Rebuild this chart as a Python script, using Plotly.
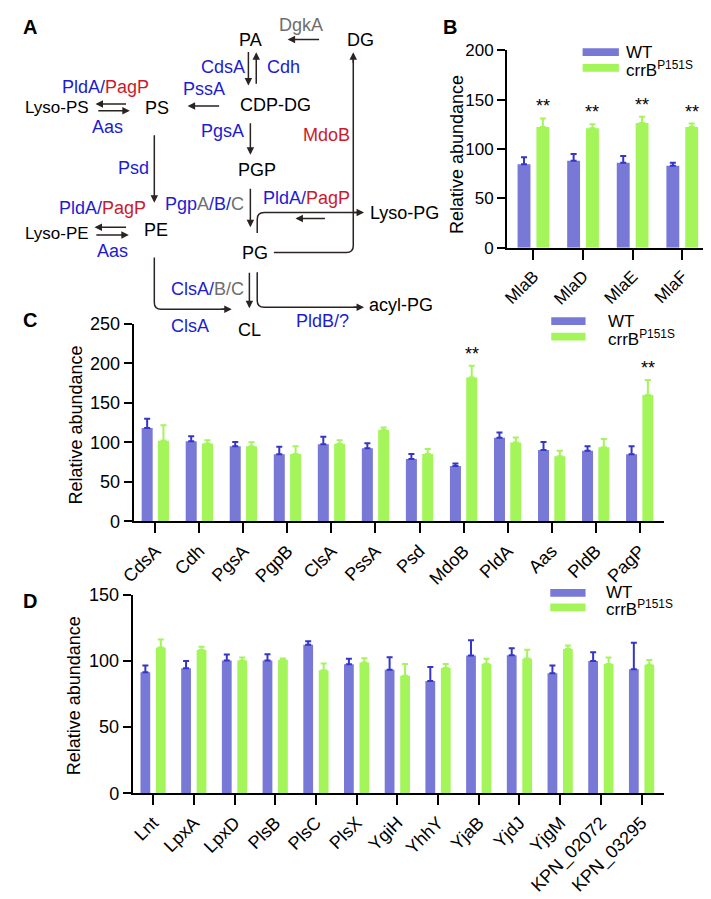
import plotly.graph_objects as go

# ---------------- data ----------------
groups = ["WT", "crrB<sup>P151S</sup>"]

b_categories = ["MlaB", "MlaD", "MlaE", "MlaF"]
b_wt = [84.5, 88.0, 86.0, 83.0]
b_wt_err = [7.2, 7.0, 7.0, 3.0]
b_mut = [122.4, 121.0, 126.4, 122.4]
b_mut_err = [8.6, 4.0, 6.3, 3.3]
b_sig = ["**", "**", "**", "**"]

c_categories = ["CdsA", "Cdh", "PgsA", "PgpB", "ClsA", "PssA", "Psd", "MdoB",
                "PldA", "Aas", "PldB", "PagP"]
c_wt = [118.4, 101.5, 95.3, 85.0, 97.8, 92.8, 79.2, 70.1, 106.0, 90.3, 89.5, 85.0]
c_wt_err = [11.6, 6.2, 5.4, 9.5, 9.5, 6.2, 6.2, 3.3, 6.6, 10.4, 5.8, 10.3]
c_mut = [102.3, 98.6, 95.3, 85.4, 98.2, 115.9, 85.4, 182.3, 99.8, 82.5, 94.0, 160.0]
c_mut_err = [19.4, 4.1, 4.9, 9.9, 4.5, 2.9, 6.2, 14.9, 6.6, 7.0, 10.4, 19.0]
c_sig = ["", "", "", "", "", "", "", "**", "", "", "", "**"]

d_categories = ["Lnt", "LpxA", "LpxD", "PlsB", "PlsC", "PlsX", "YgiH", "YhhY",
                "YjaB", "YjdJ", "YjgM", "KPN_02072", "KPN_03295"]
d_wt = [91.4, 94.4, 100.3, 100.3, 112.2, 97.4, 93.4, 84.8, 104.0, 104.3, 90.7, 100.0, 93.6]
d_wt_err = [5.2, 5.6, 4.5, 4.7, 2.7, 4.2, 9.4, 10.6, 11.6, 5.2, 5.9, 6.5, 20.1]
d_mut = [110.2, 108.2, 100.3, 100.8, 92.9, 98.8, 88.7, 94.6, 97.9, 101.8, 109.0, 97.6, 97.1]
d_mut_err = [5.9, 2.5, 2.2, 1.0, 5.1, 3.2, 8.9, 3.0, 3.7, 6.7, 2.7, 4.9, 3.5]

y_title = "Relative abundance"

# ---------------- style ----------------
OFF = 8                      # default page margin of the html body
W, H = 711 - OFF, 899 - OFF
FONT = "Liberation Sans, Arial, sans-serif"
WT_COL = "#7878D6"
WT_ERR = "#3535C8"
MUT_COL = "#A4F55A"
MUT_ERR = "#A4F55A"
BLUE = "#1C1CD2"
RED = "#CC1A2C"
GRAY = "#6E6E6E"
AC = "#2B2222"

fig = go.Figure()


def X(x):
    return (x - OFF) / W


def Y(y):
    return 1 - (y - OFF) / H


def add_panel(cats, wt, wt_err, mut, mut_err, sig, xa, ya, bw, off):
    n = len(cats)
    fig.add_trace(go.Bar(
        x=cats, y=wt, name=groups[0], xaxis=xa, yaxis=ya,
        width=bw, offset=-off - bw / 2, marker=dict(color=WT_COL, line=dict(width=0)),
        error_y=dict(type="data", array=wt_err, arrayminus=[0] * n, symmetric=False,
                     color=WT_ERR, thickness=2, width=3),
        showlegend=False))
    fig.add_trace(go.Bar(
        x=cats, y=mut, name=groups[1], xaxis=xa, yaxis=ya,
        width=bw, offset=off - bw / 2, marker=dict(color=MUT_COL, line=dict(width=0)),
        error_y=dict(type="data", array=mut_err, arrayminus=[0] * n, symmetric=False,
                     color=MUT_ERR, thickness=2, width=3),
        showlegend=False))
    for i, s in enumerate(sig):
        if s:
            fig.add_annotation(x=i + off, y=mut[i] + mut_err[i], xref=xa, yref=ya,
                               text=s, showarrow=False, yanchor="bottom", yshift=0,
                               font=dict(family=FONT, size=18, color="black"))


add_panel(b_categories, b_wt, b_wt_err, b_mut, b_mut_err, b_sig, "x", "y", 0.26, 0.19)
add_panel(c_categories, c_wt, c_wt_err, c_mut, c_mut_err, c_sig, "x2", "y2", 0.25, 0.185)
add_panel(d_categories, d_wt, d_wt_err, d_mut, d_mut_err, [""] * len(d_categories), "x3", "y3", 0.24, 0.19)

axis_common = dict(showline=True, linecolor="black", linewidth=2, ticks="outside",
                   tickcolor="black", tickwidth=2, showgrid=False, zeroline=False,
                   mirror=False)

fig.update_layout(
    width=W, height=H, margin=dict(l=0, r=0, t=0, b=0),
    paper_bgcolor="white", plot_bgcolor="white", showlegend=False,
    font=dict(family=FONT, color="black"),
    xaxis=dict(domain=[X(503), X(707)], anchor="y", range=[-0.53, 3.5], ticklen=10,
               tickangle=-45, tickfont=dict(size=17), **axis_common),
    yaxis=dict(domain=[Y(243), Y(41)], anchor="x", range=[0, 200], dtick=50, ticklen=8,
               tickfont=dict(size=17), **axis_common),
    xaxis2=dict(domain=[X(122), X(663)], anchor="y2", range=[-0.49, 11.55], ticklen=10,
                tickangle=-45, tickfont=dict(size=18), **axis_common),
    yaxis2=dict(domain=[Y(523), Y(321)], anchor="x2", range=[0, 250], dtick=50, ticklen=8,
                tickfont=dict(size=18), **axis_common),
    xaxis3=dict(domain=[X(121), X(663)], anchor="y3", range=[-0.5, 12.55], ticklen=10,
                tickangle=-45, tickfont=dict(size=18), **axis_common),
    yaxis3=dict(domain=[Y(801), Y(598)], anchor="x3", range=[0, 150], dtick=50, ticklen=8,
                tickfont=dict(size=18), **axis_common),
)


def text(t, x, y, color="black", size=18, bold=False, xanchor="center", angle=0):
    fig.add_annotation(x=X(x), y=Y(y), xref="paper", yref="paper", text=t,
                       showarrow=False, xanchor=xanchor, yanchor="middle", textangle=angle,
                       font=dict(family=FONT, size=size, color=color,
                                 weight="bold" if bold else "normal"))


def arrow(x0, y0, x1, y1):
    fig.add_annotation(x=X(x1), y=Y(y1), xref="paper", yref="paper",
                       ax=x0 - x1, ay=y0 - y1, axref="pixel", ayref="pixel",
                       text="", showarrow=True, arrowhead=2, arrowsize=1,
                       arrowwidth=1.5, arrowcolor=AC, standoff=0)


def path(cmds):
    parts = []
    for c in cmds:
        op = c[0]
        pts = c[1:]
        coords = " ".join(f"{X(pts[i]):.5f},{Y(pts[i + 1]):.5f}" for i in range(0, len(pts), 2))
        parts.append(f"{op} {coords}")
    fig.add_shape(type="path", path=" ".join(parts), xref="paper", yref="paper",
                  line=dict(color=AC, width=1.5))


def sp(t, c):
    return f"<span style='color:{c}'>{t}</span>"


# panel letters
text("A", 16, 17, size=20, bold=True)
text("B", 445, 17, size=20, bold=True)
text("C", 16, 317, size=20, bold=True)
text("D", 16, 604, size=20, bold=True)

# y-axis titles
text(y_title, 452, 148, size=18, angle=-90)
text(y_title, 63, 424, size=18, angle=-90)
text(y_title, 62, 701, size=18, angle=-90)

# legends (custom wide patches)
for (lx0, lx1, ly1, ly2, tx) in [(580, 617, 43, 59, 622), (548, 583, 318, 334, 604),
                                  (547, 583, 596, 611, 602)]:
    fig.add_shape(type="rect", xref="paper", yref="paper", x0=X(lx0), x1=X(lx1),
                  y0=Y(ly1 + 4), y1=Y(ly1 - 4), fillcolor=WT_COL, line=dict(width=0))
    fig.add_shape(type="rect", xref="paper", yref="paper", x0=X(lx0), x1=X(lx1),
                  y0=Y(ly2 + 4), y1=Y(ly2 - 4), fillcolor=MUT_COL, line=dict(width=0))
    text(groups[0], tx, ly1, size=17, xanchor="left")
    text(groups[1], tx, ly2 + 1, size=17, xanchor="left")

# ---------------- panel A: pathway diagram ----------------
text("DgkA", 293, 15, GRAY)
text("PA", 241, 30)
text("DG", 353, 30)
text("CdsA", 213, 58, BLUE)
text("Cdh", 275, 58, BLUE)
text("PssA", 194, 81, BLUE)
text("CDP-DG", 267, 97)
text("PS", 146, 100)
text("Lyso-PS", 9, 100, size=17, xanchor="left")
text(sp("PldA/", BLUE) + sp("PagP", RED), 93, 79)
text("Aas", 95, 120, BLUE)
text("PgsA", 213, 124, BLUE)
text("MdoB", 319, 128, RED)
text("PGP", 248, 163)
text("Psd", 122, 161, BLUE)
text(sp("PldA/", BLUE) + sp("PagP", RED), 90, 202)
text(sp("Pgp", BLUE) + sp("A", GRAY) + sp("/B/", BLUE) + sp("C", GRAY), 194, 198)
text(sp("PldA/", BLUE) + sp("PagP", RED), 298, 192)
text("PE", 145, 225)
text("Lyso-PE", 9, 228, size=17, xanchor="left")
text("Aas", 100, 246, BLUE)
text("Lyso-PG", 398, 207)
text("PG", 246, 248)
text(sp("ClsA/", BLUE) + sp("B/C", GRAY), 197, 285)
text("acyl-PG", 395, 302)
text("ClsA", 179, 323, BLUE)
text("CL", 240, 327)
text("PldB/?", 315, 318, BLUE)

arrow(312, 30, 279, 30)          # DG -> PA
arrow(239, 42, 239, 77)          # PA -> CDP-DG
arrow(247, 76, 247, 43)          # CDP-DG -> PA
arrow(210, 98, 177, 98)          # CDP-DG -> PS
arrow(115, 96, 83, 96)           # PS -> Lyso-PS
arrow(85, 103, 118, 103)         # Lyso-PS -> PS
arrow(241, 115, 241, 148)        # CDP-DG -> PGP
arrow(143, 128, 143, 197)        # PS -> PE
arrow(115, 222, 82, 222)         # PE -> Lyso-PE
arrow(83, 230, 117, 230)         # Lyso-PE -> PE
arrow(241, 182, 241, 222)        # PGP -> PG
arrow(318, 213, 287, 213)        # Lyso-PG -> PG
arrow(240, 268, 240, 305)        # PG -> CL

# curved connectors
path([("M", 248, 228), ("L", 248, 214), ("Q", 248, 207, 255, 207), ("L", 350, 207)])
arrow(345, 207, 357, 207)
path([("M", 265, 248), ("L", 339, 248), ("Q", 346, 248, 346, 241), ("L", 346, 50)])
arrow(346, 55, 346, 43)
path([("M", 248, 268), ("L", 248, 297), ("Q", 248, 304, 255, 304), ("L", 350, 304)])
arrow(345, 304, 357, 304)
path([("M", 143, 253), ("L", 143, 299), ("Q", 143, 306, 150, 306), ("L", 215, 306)])
arrow(210, 306, 222, 306)

fig.write_html("out.html")
